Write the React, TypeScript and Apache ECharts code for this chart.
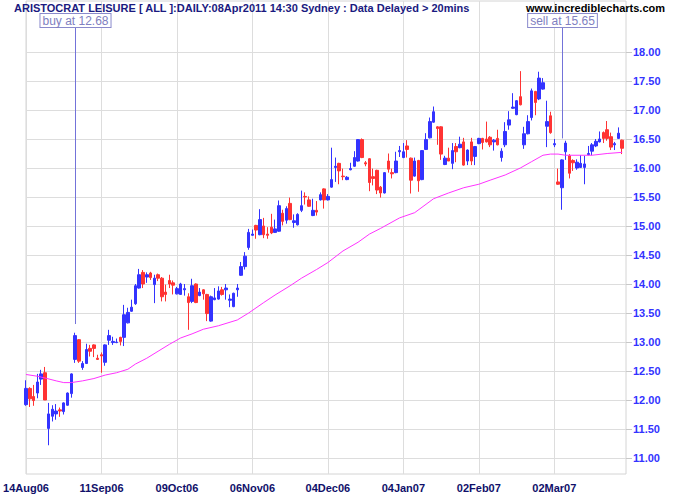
import React, { useEffect, useRef } from "react";
import * as echarts from "echarts";

const FONT = "'Liberation Sans', Arial, sans-serif";

const titleText = "ARISTOCRAT LEISURE [ ALL ]:DAILY:08Apr2011 14:30 Sydney : Data Delayed > 20mins";
const siteText = "www.incrediblecharts.com";

const tickIndex = [0, 20, 40, 60, 80, 100, 120, 140];
const tickText = ["14Aug06", "11Sep06", "09Oct06", "06Nov06", "04Dec06", "04Jan07", "02Feb07", "02Mar07"];

// open, close, high, low per trading day
const opens = [
  11.92, 12.2, 12.06, 12.12, 12.36, 12.47, 11.51, 11.72, 11.76, 11.83, 11.8, 11.91, 12.11, 12.7, 13.04, 12.56, 12.63, 12.89, 12.95, 12.72,
  12.78, 12.65, 13.03, 12.99, 12.99, 13.08, 13.08, 13.33, 13.53, 13.66, 13.93, 14.2, 14.12, 14.19, 13.99, 14.16, 14.1, 13.86, 14.06, 14.02,
  13.83, 13.82, 13.9, 13.78, 13.7, 14.0, 13.8, 13.9, 13.82, 13.36, 13.73, 13.74, 13.9, 13.9, 13.72, 13.61, 13.9, 14.15, 14.3, 14.63,
  14.84, 15.01, 14.85, 15.0, 14.86, 14.98, 14.89, 14.91, 15.22, 15.1, 15.39, 15.06, 15.02, 15.27, 15.51, 15.45, 15.18, 15.27, 15.45, 15.64,
  15.45, 15.67, 16.01, 16.08, 15.86, 15.8, 15.97, 16.03, 16.12, 16.49, 16.09, 16.16, 15.85, 15.96, 15.67, 15.57, 16.12, 15.92, 15.92, 16.28,
  16.18, 16.38, 16.17, 15.86, 16.13, 15.8, 16.32, 16.52, 16.79, 16.71, 16.71, 16.06, 16.17, 16.08, 16.37, 16.35, 16.45, 16.12, 16.45, 16.2,
  16.42, 16.51, 16.5, 16.53, 16.45, 16.51, 16.18, 16.4, 16.74, 17.03, 16.92, 17.23, 16.4, 16.59, 16.87, 17.32, 17.19, 17.36, 16.72, 16.9,
  16.4, 15.76, 15.66, 16.28, 16.21, 16.13, 16.0, 16.01, 16.01, 16.23, 16.29, 16.38, 16.45, 16.61, 16.66, 16.54, 16.4, 16.51, 16.48,
];
const closes = [
  12.2, 12.02, 11.99, 12.31, 12.45, 12.0, 11.76, 11.84, 11.81, 11.81, 11.95, 12.12, 12.45, 13.11, 12.67, 12.63, 12.87, 12.84, 12.89, 12.7,
  12.76, 12.95, 13.11, 13.01, 13.0, 13.01, 13.47, 13.51, 13.6, 13.97, 14.16, 14.0, 14.16, 14.11, 14.1, 14.1, 13.78, 13.82, 14.0, 13.98,
  13.92, 14.0, 13.92, 13.68, 13.97, 13.68, 13.86, 13.83, 13.49, 13.78, 13.76, 13.88, 13.82, 13.93, 13.74, 13.84, 13.93, 14.3, 14.48, 14.89,
  14.86, 14.93, 15.11, 14.85, 14.84, 14.88, 14.95, 15.35, 15.08, 15.3, 15.11, 15.09, 15.2, 15.35, 15.5, 15.34, 15.27, 15.24, 15.54, 15.45,
  15.51, 15.8, 16.03, 15.95, 15.85, 15.84, 15.99, 16.18, 16.49, 16.18, 16.07, 15.75, 15.82, 15.62, 15.57, 15.92, 15.98, 15.9, 16.12, 16.3,
  16.28, 16.32, 15.79, 16.12, 15.78, 16.3, 16.49, 16.8, 16.97, 16.68, 16.24, 16.17, 16.12, 16.3, 16.28, 16.41, 16.05, 16.31, 16.12, 16.37,
  16.51, 16.44, 16.45, 16.4, 16.48, 16.4, 16.29, 16.63, 16.83, 17.05, 17.16, 17.09, 16.59, 16.8, 17.33, 17.13, 17.55, 17.47, 16.8, 16.61,
  16.42, 15.72, 16.14, 16.43, 15.91, 16.09, 16.1, 16.08, 16.07, 16.25, 16.4, 16.46, 16.5, 16.51, 16.51, 16.36, 16.42, 16.6, 16.34,
];
const highs = [
  12.34, 12.22, 12.26, 12.45, 12.52, 12.57, 11.95, 11.91, 11.93, 11.87, 11.96, 12.13, 12.46, 13.16, 13.05, 12.67, 12.97, 12.95, 12.96, 12.78,
  12.82, 12.96, 13.21, 13.09, 13.06, 13.09, 13.64, 13.59, 13.73, 14.0, 14.26, 14.24, 14.2, 14.21, 14.16, 14.18, 14.12, 13.99, 14.16, 14.06,
  13.95, 14.02, 14.0, 13.84, 14.09, 14.01, 13.93, 13.91, 13.83, 13.8, 13.93, 13.96, 13.95, 14.0, 13.82, 13.85, 14.0, 14.38, 14.55, 14.95,
  14.94, 15.02, 15.29, 15.14, 14.98, 15.21, 15.11, 15.44, 15.28, 15.34, 15.49, 15.2, 15.22, 15.61, 15.58, 15.51, 15.47, 15.43, 15.58, 15.65,
  15.55, 16.35, 16.18, 16.09, 15.99, 15.86, 16.09, 16.29, 16.5, 16.51, 16.12, 16.17, 15.99, 15.97, 15.69, 15.93, 16.25, 15.99, 16.28, 16.38,
  16.43, 16.48, 16.18, 16.18, 16.14, 16.31, 16.6, 16.87, 17.06, 16.72, 16.72, 16.21, 16.35, 16.43, 16.43, 16.54, 16.52, 16.32, 16.52, 16.38,
  16.52, 16.52, 16.8, 16.55, 16.5, 16.66, 16.34, 16.79, 16.98, 17.29, 17.17, 17.67, 16.71, 16.91, 17.37, 17.33, 17.66, 17.55, 17.16, 16.97,
  16.5, 15.99, 16.15, 16.47, 16.24, 16.15, 16.15, 16.22, 16.21, 16.38, 16.43, 16.5, 16.63, 16.63, 16.81, 16.61, 16.45, 16.7, 16.49,
];
const lows = [
  11.9, 11.88, 11.9, 12.03, 12.26, 12.0, 11.22, 11.63, 11.66, 11.71, 11.75, 11.9, 12.04, 12.64, 12.64, 12.52, 12.62, 12.75, 12.74, 12.69,
  12.47, 12.59, 12.95, 12.95, 12.98, 12.94, 12.93, 13.32, 13.52, 13.64, 13.92, 13.93, 14.02, 14.07, 13.67, 14.05, 13.7, 13.7, 13.93, 13.82,
  13.82, 13.82, 13.8, 13.21, 13.67, 13.67, 13.79, 13.73, 13.36, 13.35, 13.72, 13.73, 13.8, 13.73, 13.6, 13.6, 13.78, 14.14, 14.25, 14.59,
  14.83, 14.78, 14.84, 14.79, 14.78, 14.86, 14.88, 14.9, 15.01, 15.04, 15.1, 14.97, 15.01, 15.24, 15.37, 15.33, 15.17, 15.18, 15.44, 15.3,
  15.44, 15.66, 15.76, 15.72, 15.79, 15.79, 15.96, 16.02, 16.11, 16.17, 16.03, 15.6, 15.7, 15.55, 15.49, 15.56, 15.92, 15.82, 15.91, 16.19,
  16.17, 16.18, 15.56, 15.85, 15.59, 15.79, 16.31, 16.51, 16.78, 16.4, 16.14, 16.05, 16.12, 15.98, 16.1, 16.34, 16.04, 16.05, 16.05, 16.05,
  16.41, 16.32, 16.44, 16.36, 16.3, 16.39, 16.11, 16.36, 16.66, 17.02, 16.91, 17.08, 16.33, 16.58, 16.82, 16.91, 17.17, 17.35, 16.36, 16.59,
  16.36, 15.71, 15.28, 16.14, 15.82, 15.95, 15.97, 16.0, 15.72, 16.22, 16.22, 16.36, 16.44, 16.43, 16.47, 16.31, 16.31, 16.5, 16.24,
];

// moving average: day index and value
const maDay = [0, 3, 5, 8, 10, 12, 15, 18, 21, 24, 27, 29, 32, 35, 38, 41, 44, 47, 51, 56, 59, 63, 66, 70, 73, 77, 80, 84, 88, 91, 94, 99, 103, 108, 112, 116, 120, 123, 127, 131, 134, 137, 139, 141, 143, 147, 150, 154, 158];
const maValue = [12.44, 12.41, 12.38, 12.33, 12.3, 12.3, 12.33, 12.37, 12.43, 12.47, 12.53, 12.62, 12.72, 12.84, 12.96, 13.07, 13.14, 13.22, 13.28, 13.38, 13.5, 13.68, 13.81, 13.97, 14.1, 14.25, 14.37, 14.57, 14.72, 14.86, 14.96, 15.14, 15.23, 15.47, 15.57, 15.66, 15.72, 15.79, 15.88, 16.0, 16.11, 16.22, 16.24, 16.24, 16.22, 16.22, 16.22, 16.25, 16.27];

// trade annotations
const annDay = [13, 142];
const annLineEnd = [13.31, 16.51];
const annBoxBottom = [18.43, 18.43];
const annText = ["buy at 12.68", "sell at 15.65"];

const dayCount = 160;
const categories = Array.from({ length: dayCount }, (_, i) => String(i));

export default function App() {
  const ref = useRef<HTMLDivElement>(null);
  useEffect(() => {
    if (!ref.current) return;
    const chart = echarts.init(ref.current, null, { renderer: "svg" });
    const candles = opens.map((o, i) => [o, closes[i], lows[i], highs[i]]);
    const ma = maDay.map((d, i) => [d, maValue[i]]);
    const ann = annDay.map((d, i) => [d, annLineEnd[i], annBoxBottom[i]]);
    const gridColor = "#dddddd";
    chart.setOption({
      animation: false,
      backgroundColor: "#ffffff",
      title: [
        {
          text: titleText,
          left: 14,
          top: 2,
          padding: 0,
          textStyle: { fontFamily: FONT, fontSize: 11, fontWeight: "bold", color: "#1a1a80" },
        },
        {
          text: siteText,
          right: 10,
          top: 2,
          padding: 0,
          textStyle: { fontFamily: FONT, fontSize: 11, fontWeight: "bold", color: "#000000" },
        },
      ],
      grid: [
        { left: 26, right: 49, top: 1, bottom: 26, show: true, borderColor: "#d4d4d4", borderWidth: 1, backgroundColor: "transparent" },
        { left: 26, right: 49, top: 52, bottom: 42 },
      ],
      xAxis: [
        {
          type: "category",
          gridIndex: 0,
          data: categories,
          boundaryGap: false,
          axisLine: { show: false },
          axisTick: { show: false },
          axisLabel: {
            interval: 19,
            margin: 8,
            fontFamily: FONT,
            fontSize: 11,
            fontWeight: "bold",
            color: "#10106a",
            formatter: (_v: string, idx: number) => {
              const k = tickIndex.indexOf(idx);
              return k >= 0 ? tickText[k] : "";
            },
          },
          splitLine: { show: true, interval: 19, lineStyle: { color: gridColor, width: 1 } },
        },
        {
          type: "category",
          gridIndex: 1,
          data: categories,
          boundaryGap: false,
          show: false,
        },
      ],
      yAxis: [
        {
          type: "value",
          gridIndex: 0,
          min: 11 - 16 / 58,
          max: 18 + 51 / 58,
          show: false,
          splitLine: { show: false },
        },
        {
          type: "value",
          gridIndex: 1,
          position: "right",
          min: 11,
          max: 18,
          interval: 0.5,
          axisLine: { show: false },
          axisTick: { show: true, length: 6, lineStyle: { color: "#c8c8c8" } },
          axisLabel: {
            margin: 7,
            fontFamily: FONT,
            fontSize: 11,
            fontWeight: "bold",
            color: "#3333ff",
            formatter: (v: number) => v.toFixed(2),
          },
          splitLine: { show: true, lineStyle: { color: gridColor, width: 1 } },
        },
      ],
      series: [
        {
          type: "candlestick",
          xAxisIndex: 1,
          yAxisIndex: 1,
          data: candles,
          barWidth: 3,
          itemStyle: {
            color: "#3333ff",
            color0: "#ff3333",
            borderColor: "#3333ff",
            borderColor0: "#ff3333",
            borderWidth: 1,
          },
        },
        {
          type: "line",
          xAxisIndex: 1,
          yAxisIndex: 1,
          data: ma,
          symbol: "none",
          lineStyle: { color: "#ff33ff", width: 1 },
          z: 3,
        },
        {
          type: "custom",
          xAxisIndex: 0,
          yAxisIndex: 0,
          data: ann,
          z: 4,
          renderItem: (params: any, api: any) => {
            const d = api.value(0);
            const p1 = api.coord([d, api.value(1)]);
            const p2 = api.coord([d, api.value(2)]);
            const x = Math.round(p1[0]) + 0.5;
            return {
              type: "group",
              children: [
                {
                  type: "line",
                  shape: { x1: x, y1: p1[1], x2: x, y2: p2[1] },
                  style: { stroke: "#7373d9", lineWidth: 1 },
                },
                {
                  type: "text",
                  x: x,
                  y: p2[1],
                  style: {
                    text: annText[params.dataIndex],
                    fill: "#8080c0",
                    font: "12px " + FONT,
                    align: "center",
                    verticalAlign: "bottom",
                    backgroundColor: "#ffffff",
                    borderColor: "#8a8acc",
                    borderWidth: 1,
                    padding: [1, 2, 0, 2],
                  },
                },
              ],
            };
          },
        },
      ],
    });
    return () => chart.dispose();
  }, []);
  return <div ref={ref} style={{ position: "fixed", left: 0, top: 0, width: 675, height: 500 }} />;
}
